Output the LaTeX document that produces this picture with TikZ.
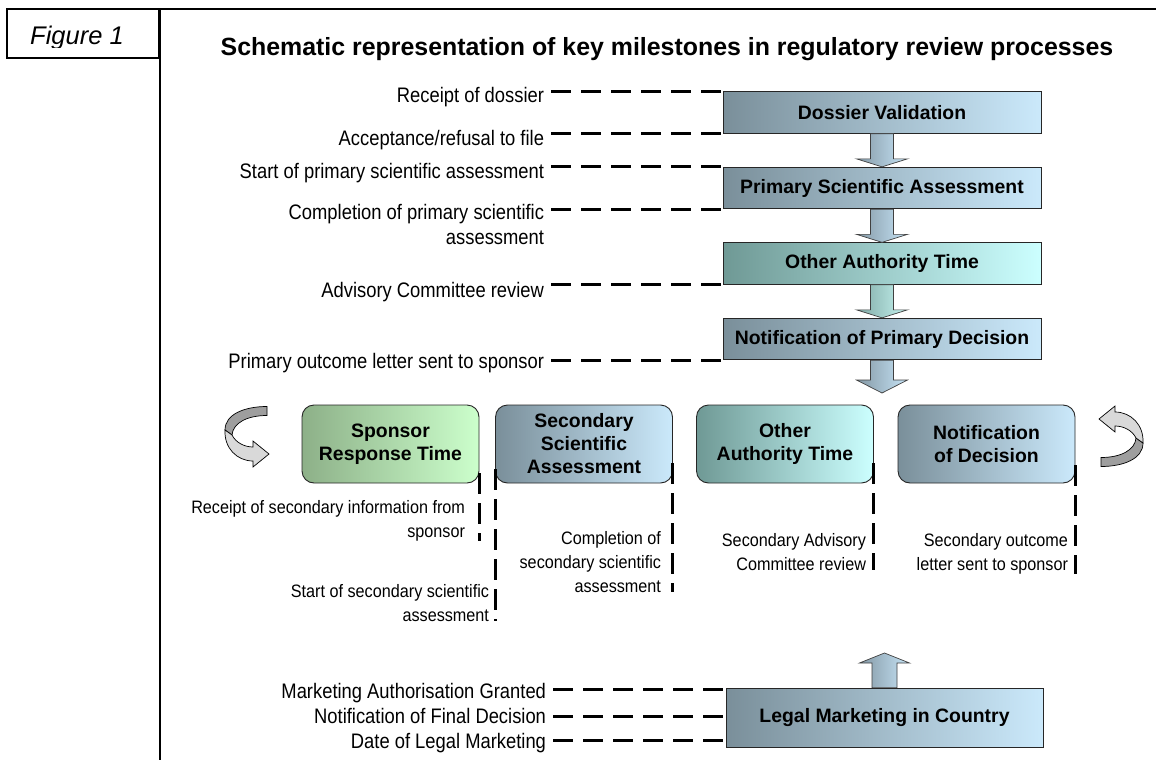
\documentclass[tikz,border=0pt]{standalone}
\usepackage{fontspec}
\setmainfont{Liberation Sans}
\newfontfamily\labfont[FakeStretch=0.875]{Liberation Sans}
\newfontfamily\minorfont[FakeStretch=0.9]{Liberation Sans}
\usetikzlibrary{calc}

\definecolor{slateL}{HTML}{7A8F9A}
\definecolor{slateR}{HTML}{CBE9FB}
\definecolor{tealL}{HTML}{6F9995}
\definecolor{tealR}{HTML}{CCFFFF}
\definecolor{sageL}{HTML}{8DB088}
\definecolor{sageR}{HTML}{CCFFCC}
\definecolor{arrL}{HTML}{8498A5}
\definecolor{arrR}{HTML}{C6E4F6}
\definecolor{arrTL}{HTML}{7FA9A5}
\definecolor{arrTR}{HTML}{C6F4F0}

\tikzset{
  slateshade/.style={left color=slateL, right color=slateR},
  tealshade/.style={left color=tealL, right color=tealR},
  sageshade/.style={left color=sageL, right color=sageR},
  stagebox/.style={draw=black!85, line width=0.8pt, minimum width=318pt,
    minimum height=41.5pt, inner sep=0pt, slateshade,
    font=\fontsize{19.4}{23}\selectfont\bfseries},
  loopbox/.style={draw=black!85, line width=0.9pt, rounded corners=12pt,
    minimum width=177pt, minimum height=78pt, inner sep=0pt, align=center,
    font=\fontsize{19.4}{23}\selectfont\bfseries},
  milestone/.style={font=\fontsize{21}{25}\labfont, inner sep=0pt,
    outer xsep=7pt, outer ysep=0pt, align=right},
  minorlabel/.style={font=\fontsize{18}{24}\minorfont, inner sep=0pt,
    outer sep=0pt, align=right},
  milestonelink/.style={line width=3pt, dash pattern=on 20pt off 10pt},
  milestonedrop/.style={line width=3pt, dash pattern=on 21pt off 9pt},
  blockarrow/.style={draw=black!75, line width=0.7pt, left color=arrL, right color=arrR},
  blockarrowteal/.style={draw=black!75, line width=0.7pt, left color=arrTL, right color=arrTR},
  ribbonback/.style={draw=black, line width=0.7pt, fill=black!38},
  ribbonfront/.style={draw=black, line width=0.7pt, fill=black!15},
}

\begin{document}
\begin{tikzpicture}[x=1pt, y=-1pt]
\useasboundingbox (0,0) rectangle (1156,760);
\fill[white] (0,0) rectangle (1156,760);

% page frame and figure tag
\draw[line width=1.3pt] (7,9) rectangle (159,58);
\draw[line width=1.4pt] (159,9) -- (1156,9);
\draw[line width=2.4pt] (160,9) -- (160,760);
\begin{scope}
  \clip (8,10) rectangle (158,48);
  \node[anchor=base west, inner sep=0pt, font=\fontsize{25.5}{28}\selectfont\itshape] (figtag) at (30,45) {Figure 1};
\end{scope}

% title
\node[anchor=base, inner sep=0pt, font=\fontsize{24.9}{28}\selectfont\bfseries] (title) at (667,56)
  {Schematic representation of key milestones in regulatory review processes};

% primary review stages
\node[stagebox] (dv)  at (882,112.5) {Dossier Validation};
\node[stagebox] (psa) at (882,188) {Primary Scientific Assessment};
\node[stagebox, tealshade] (oat) at (882,263.5) {Other Authority Time};
\node[stagebox] (npd) at (882,339) {Notification of Primary Decision};
\node[stagebox, minimum width=317pt, minimum height=59pt] (lmc) at (884.5,717.5) {Legal Marketing in Country};

% secondary review loop
\node[loopbox, sageshade]  (srt)  at (390.5,444) {Sponsor\\Response Time};
\node[loopbox, slateshade] (ssa)  at (584,444) {Secondary\\Scientific\\Assessment};
\node[loopbox, tealshade]  (oat2) at (785,444) {Other\\Authority Time};
\node[loopbox, slateshade] (nod)  at (986.5,444) {Notification\\of Decision};

\coordinate (loopin) at (882,393);
\coordinate (legalup) at (884.5,653);

% block arrows between stages
\draw[blockarrow] ($(dv.south)+(-11.5,0)$) -- ($(psa.north)+(-11.5,-8)$) -- ($(psa.north)+(-25.5,-8)$)
  -- (psa.north) -- ($(psa.north)+(25.5,-8)$) -- ($(psa.north)+(11.5,-8)$) -- ($(dv.south)+(11.5,0)$) -- cycle;
\draw[blockarrow] ($(psa.south)+(-11.5,0)$) -- ($(oat.north)+(-11.5,-8)$) -- ($(oat.north)+(-25.5,-8)$)
  -- (oat.north) -- ($(oat.north)+(25.5,-8)$) -- ($(oat.north)+(11.5,-8)$) -- ($(psa.south)+(11.5,0)$) -- cycle;
\draw[blockarrowteal] ($(oat.south)+(-11.5,0)$) -- ($(npd.north)+(-11.5,-8)$) -- ($(npd.north)+(-25.5,-8)$)
  -- (npd.north) -- ($(npd.north)+(25.5,-8)$) -- ($(npd.north)+(11.5,-8)$) -- ($(oat.south)+(11.5,0)$) -- cycle;
\draw[blockarrow] ($(npd.south)+(-11.5,0)$) -- ($(loopin)+(-11.5,-13)$) -- ($(loopin)+(-25.5,-13)$)
  -- (loopin) -- ($(loopin)+(25.5,-13)$) -- ($(loopin)+(11.5,-13)$) -- ($(npd.south)+(11.5,0)$) -- cycle;
\draw[blockarrow] ($(lmc.north)+(-12.5,0)$) -- ($(legalup)+(-12.5,10)$) -- ($(legalup)+(-25,10)$)
  -- (legalup) -- ($(legalup)+(25,10)$) -- ($(legalup)+(12.5,10)$) -- ($(lmc.north)+(12.5,0)$) -- cycle;

% curved loop arrows
\begin{scope}[shift={(245,436)}]
  \draw[ribbonback] (22,-29.5) .. controls (0,-29.5) and (-20,-22) .. (-20,-6) -- (-13,-1)
    .. controls (-12,-13) and (2,-20.5) .. (22,-20.5) -- cycle;
  \draw[ribbonfront] (-13,-1) .. controls (-9,7) and (0,11) .. (8,11) -- (8,5) -- (24,18) -- (8,31) -- (8,25)
    .. controls (-8,25) and (-21,12) .. (-20,-6) -- cycle;
\end{scope}
\begin{scope}[shift={(1123,437)}, rotate=180]
  \draw[ribbonback] (22,-29.5) .. controls (0,-29.5) and (-20,-22) .. (-20,-6) -- (-13,-1)
    .. controls (-12,-13) and (2,-20.5) .. (22,-20.5) -- cycle;
  \draw[ribbonfront] (-13,-1) .. controls (-9,7) and (0,11) .. (8,11) -- (8,5) -- (24,18) -- (8,31) -- (8,25)
    .. controls (-8,25) and (-21,12) .. (-20,-6) -- cycle;
\end{scope}

% primary milestones
\node[milestone, anchor=base east] (m1) at (551,102) {Receipt of dossier};
\node[milestone, anchor=base east] (m2) at (551,145) {Acceptance/refusal to file};
\node[milestone, anchor=base east] (m3) at (551,178) {Start of primary scientific assessment};
\node[milestone, anchor=north east] (m4) at (551,204.5) {Completion of primary scientific\\assessment};
\node[milestone, anchor=base east] (m5) at (551,297) {Advisory Committee review};
\node[milestone, anchor=base east] (m6) at (551,368) {Primary outcome letter sent to sponsor};

\draw[milestonelink] (m1.east |- dv.north west) -- (dv.north west);
\draw[milestonelink] (m2.east |- dv.south west) -- (dv.south west);
\draw[milestonelink] (m3.east |- psa.north west) -- (psa.north west);
\draw[milestonelink] (m4.east |- psa.south west) -- (psa.south west);
\draw[milestonelink] (m5.east |- oat.south west) -- (oat.south west);
\draw[milestonelink] (m6.east |- npd.south west) -- (npd.south west);

% final milestones
\coordinate (lmc1) at ($(lmc.north west)+(0,2)$);
\coordinate (lmc2) at ($(lmc.west)+(0,-1.5)$);
\coordinate (lmc3) at ($(lmc.south west)+(0,-7)$);
\node[milestone, anchor=base east] (m7) at (553,698) {Marketing Authorisation Granted};
\node[milestone, anchor=base east] (m8) at (553,723) {Notification of Final Decision};
\node[milestone, anchor=base east] (m9) at (553,748) {Date of Legal Marketing};
\draw[milestonelink] (m7.east |- lmc1) -- (lmc1);
\draw[milestonelink] (m8.east |- lmc2) -- (lmc2);
\draw[milestonelink] (m9.east |- lmc3) -- (lmc3);

% secondary milestones
\node[minorlabel, anchor=north east] (s1) at (465,500) {Receipt of secondary information from\\sponsor};
\node[minorlabel, anchor=north east] (s2) at (489,584) {Start of secondary scientific\\assessment};
\node[minorlabel, anchor=north east] (s3) at (661,531) {Completion of\\secondary scientific\\assessment};
\node[minorlabel, anchor=north east] (s4) at (866,533) {Secondary Advisory\\Committee review};
\node[minorlabel, anchor=north east] (s5) at (1068,533) {Secondary outcome\\letter sent to sponsor};

\draw[milestonedrop] ($(srt.south east)+(0,-10)$) -- (srt.east |- s1.south);
\draw[milestonedrop] ($(ssa.south west)+(0,-14)$) -- (ssa.west |- s2.south);
\draw[milestonedrop] ($(ssa.south east)+(0,-20)$) -- (ssa.east |- s3.south);
\draw[milestonedrop] ($(oat2.south east)+(0,-20)$) -- (oat2.east |- s4.south);
\draw[milestonedrop] ($(nod.south east)+(0,-18)$) -- (nod.east |- s5.south);
\end{tikzpicture}
\end{document}
